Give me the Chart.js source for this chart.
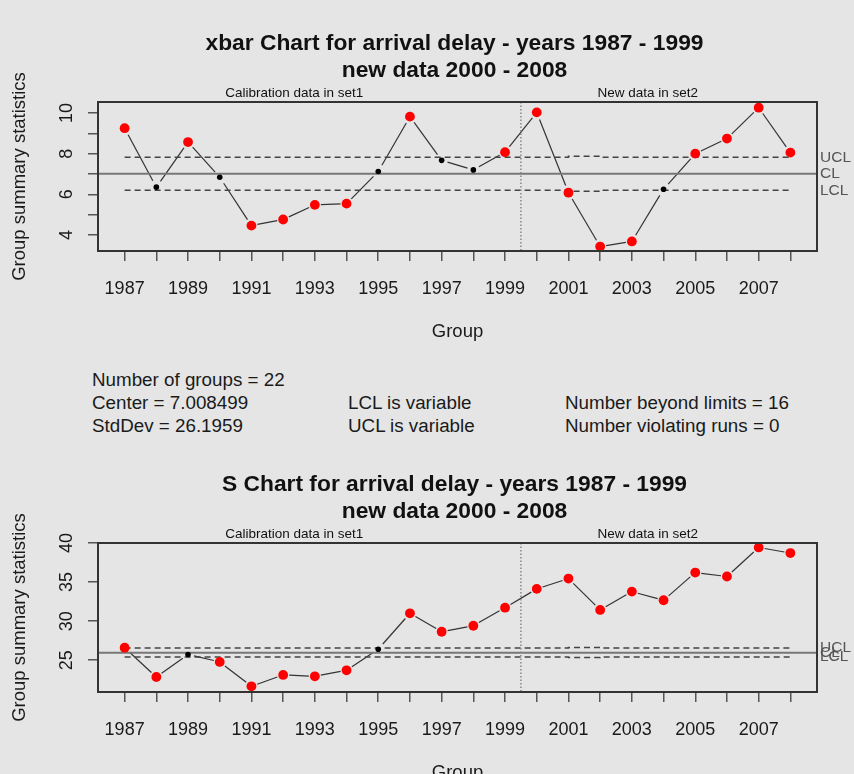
<!DOCTYPE html>
<html>
<head>
<meta charset="utf-8">
<script src="https://cdn.jsdelivr.net/npm/chart.js@4.4.0/dist/chart.umd.min.js"></script>
<style>
body { margin: 0; background: #e5e5e5; width: 854px; height: 774px; overflow: hidden; position: relative;
       font-family: 'Liberation Sans', Arial, sans-serif; }
.box { position: absolute; left: 0; width: 854px; height: 350px; }
.stat { position: absolute; font-size: 18.8px; line-height: 20px; color: #1a1a1a; white-space: nowrap; }
</style>
</head>
<body>
<div class="box" style="top:0"><canvas id="xbarChart"></canvas></div>

<div class="stat" style="left:92px;top:370px">Number of groups = 22</div>
<div class="stat" style="left:92px;top:393px">Center = 7.008499</div>
<div class="stat" style="left:348px;top:393px">LCL is variable</div>
<div class="stat" style="left:565px;top:393px">Number beyond limits = 16</div>
<div class="stat" style="left:92px;top:416px">StdDev = 26.1959</div>
<div class="stat" style="left:348px;top:416px">UCL is variable</div>
<div class="stat" style="left:565px;top:416px">Number violating runs = 0</div>

<div class="box" style="top:441px"><canvas id="sChart"></canvas></div>

<script>
// groups (years)
var years = [1987, 1988, 1989, 1990, 1991, 1992, 1993, 1994, 1995, 1996, 1997,
             1998, 1999, 2000, 2001, 2002, 2003, 2004, 2005, 2006, 2007, 2008];
var yearLabels = [1987, 1989, 1991, 1993, 1995, 1997, 1999, 2001, 2003, 2005, 2007];
var splitAt = 1999.5;
var calibLabelAt = 1992.35;
var newLabelAt = 2003.5;

// xbar chart
var xbarStats = [9.25, 6.35, 8.57, 6.84, 4.46, 4.76, 5.48, 5.54, 7.12, 9.82, 7.67,
                 7.20, 8.07, 10.03, 6.08, 3.43, 3.68, 6.25, 8.00, 8.74, 10.26, 8.05];
var xbarCenter = 7.008499;
var xbarUcl = [7.82, 7.82, 7.82, 7.82, 7.82, 7.82, 7.82, 7.82, 7.82, 7.82, 7.82,
               7.82, 7.82, 7.82, 7.87, 7.82, 7.82, 7.82, 7.82, 7.82, 7.82, 7.82];
var xbarLcl = [6.20, 6.20, 6.20, 6.20, 6.20, 6.20, 6.20, 6.20, 6.20, 6.20, 6.20,
               6.20, 6.20, 6.20, 6.15, 6.20, 6.20, 6.20, 6.20, 6.20, 6.20, 6.20];
var xbarYTicks = [4, 5, 6, 7, 8, 9, 10];
var xbarYLabels = [4, 6, 8, 10];

// S chart
var sStats = [26.60, 22.85, 25.73, 24.78, 21.66, 23.11, 22.94, 23.71, 26.41, 31.00, 28.64,
              29.41, 31.72, 34.13, 35.45, 31.43, 33.78, 32.67, 36.22, 35.71, 39.43, 38.71];
var sCenter = 25.94;
var sUcl = [26.55, 26.55, 26.55, 26.55, 26.55, 26.55, 26.55, 26.55, 26.55, 26.55, 26.55,
            26.55, 26.55, 26.55, 26.63, 26.55, 26.55, 26.55, 26.55, 26.55, 26.55, 26.55];
var sLcl = [25.42, 25.42, 25.42, 25.42, 25.42, 25.42, 25.42, 25.42, 25.42, 25.42, 25.42,
            25.42, 25.42, 25.42, 25.36, 25.42, 25.42, 25.42, 25.42, 25.42, 25.42, 25.42];
var sYTicks = [25, 30, 35, 40];
var sYLabels = [25, 30, 35, 40];

var FONT = "'Liberation Sans', Arial, sans-serif";

function pairs(vals) {
    return years.map(function (yr, i) { return { x: yr, y: vals[i] }; });
}

// lines between points, broken near each point (R type "b")
var gapLines = {
    id: 'gapLines',
    beforeDatasetsDraw: function (chart) {
        var pts = chart.getDatasetMeta(0).data;
        var ctx = chart.ctx, a = 6, b = 8;
        ctx.save();
        ctx.strokeStyle = '#333';
        ctx.lineWidth = 1.2;
        for (var i = 0; i < pts.length - 1; i++) {
            var dx = pts[i + 1].x - pts[i].x, dy = pts[i + 1].y - pts[i].y;
            var len = Math.sqrt(dx * dx + dy * dy);
            var ux = dx / len, uy = dy / len;
            var gap = 1 / Math.sqrt((ux / a) * (ux / a) + (uy / b) * (uy / b));
            if (len <= 2 * gap) continue;
            ctx.beginPath();
            ctx.moveTo(pts[i].x + ux * gap, pts[i].y + uy * gap);
            ctx.lineTo(pts[i + 1].x - ux * gap, pts[i + 1].y - uy * gap);
            ctx.stroke();
        }
        ctx.restore();
    }
};

var decorations = {
    id: 'decorations',
    afterDraw: function (chart) {
        var o = chart.options.plugins.decorations;
        var ctx = chart.ctx, area = chart.chartArea;
        var xs = chart.scales.x, ys = chart.scales.y;
        var n = years.length - 1;
        ctx.save();

        // split line
        var sx = xs.getPixelForValue(splitAt);
        ctx.strokeStyle = '#888';
        ctx.lineWidth = 1.5;
        ctx.setLineDash([1.5, 2]);
        ctx.beginPath();
        ctx.moveTo(sx, area.top);
        ctx.lineTo(sx, area.bottom);
        ctx.stroke();
        ctx.setLineDash([]);

        // box
        ctx.strokeStyle = '#333';
        ctx.lineWidth = 2;
        ctx.strokeRect(area.left, area.top, area.right - area.left, area.bottom - area.top);

        // titles
        var cx = (area.left + area.right) / 2;
        ctx.fillStyle = '#111';
        ctx.textAlign = 'center';
        ctx.textBaseline = 'middle';
        ctx.font = 'bold 22.8px ' + FONT;
        ctx.fillText(o.title[0], cx - 3, 44);
        ctx.fillText(o.title[1], cx - 3, 71);

        ctx.font = '13.5px ' + FONT;
        ctx.fillText('Calibration data in set1', xs.getPixelForValue(calibLabelAt), 93);
        ctx.fillText('New data in set2', xs.getPixelForValue(newLabelAt), 93);

        // axis titles
        ctx.font = '18.5px ' + FONT;
        ctx.fillStyle = '#1a1a1a';
        ctx.fillText('Group', cx, 332);
        ctx.save();
        ctx.translate(20, (area.top + area.bottom) / 2);
        ctx.rotate(-Math.PI / 2);
        ctx.fillText('Group summary statistics', 0, 0);
        ctx.restore();

        // limit labels
        ctx.font = '15.5px ' + FONT;
        ctx.fillStyle = '#555';
        ctx.textAlign = 'left';
        ctx.fillText('UCL', area.right + 3, ys.getPixelForValue(o.ucl[n]));
        ctx.fillText('CL', area.right + 3, ys.getPixelForValue(o.center));
        ctx.fillText('LCL', area.right + 3, ys.getPixelForValue(o.lcl[n]));
        ctx.restore();
    }
};

function makeChart(id, title, stats, center, ucl, lcl, yMin, yMax, yTicks, yLabels) {
    var out = stats.map(function (v, i) { return v > ucl[i] || v < lcl[i]; });
    var xMin = 1986.16, xMax = 2008.84;
    return new Chart(document.getElementById(id).getContext('2d'), {
        type: 'line',
        data: {
            datasets: [{
                data: pairs(stats),
                showLine: false,
                pointRadius: function (c) { return out[c.dataIndex] ? 4.9 : 2.8; },
                pointBackgroundColor: function (c) { return out[c.dataIndex] ? '#ff0000' : '#000000'; },
                pointBorderWidth: 0
            }, {
                data: pairs(ucl),
                stepped: 'before',
                borderColor: '#444',
                borderWidth: 1.5,
                borderDash: [6, 4],
                pointRadius: 0
            }, {
                data: pairs(lcl),
                stepped: 'before',
                borderColor: '#444',
                borderWidth: 1.5,
                borderDash: [6, 4],
                pointRadius: 0
            }, {
                data: [{ x: xMin, y: center }, { x: xMax, y: center }],
                borderColor: '#777',
                borderWidth: 2,
                pointRadius: 0
            }]
        },
        options: {
            animation: false,
            responsive: true,
            maintainAspectRatio: false,
            events: [],
            layout: { padding: { top: 102, right: 37, left: 0, bottom: 0 } },
            plugins: {
                legend: { display: false },
                tooltip: { enabled: false },
                decorations: { title: title, center: center, ucl: ucl, lcl: lcl }
            },
            scales: {
                x: {
                    type: 'linear',
                    min: xMin,
                    max: xMax,
                    afterBuildTicks: function (s) { s.ticks = years.map(function (v) { return { value: v }; }); },
                    afterFit: function (s) { s.height = 99; },
                    ticks: {
                        autoSkip: false, maxRotation: 0, minRotation: 0, padding: 17,
                        color: '#1a1a1a', font: { family: FONT, size: 18 },
                        callback: function (v) { return yearLabels.indexOf(v) >= 0 ? String(v) : ''; }
                    },
                    grid: { drawOnChartArea: false, tickLength: 10, color: '#555', lineWidth: 1.5 },
                    border: { display: false }
                },
                y: {
                    type: 'linear',
                    min: yMin,
                    max: yMax,
                    afterBuildTicks: function (s) { s.ticks = yTicks.map(function (v) { return { value: v }; }); },
                    afterFit: function (s) { s.width = 98; },
                    ticks: {
                        minRotation: 90, maxRotation: 90, crossAlign: 'center', padding: 11,
                        color: '#1a1a1a', font: { family: FONT, size: 18 },
                        callback: function (v) { return yLabels.indexOf(v) >= 0 ? String(v) : ''; }
                    },
                    grid: { drawOnChartArea: false, tickLength: 10, color: '#555', lineWidth: 1.5 },
                    border: { display: false }
                }
            }
        },
        plugins: [gapLines, decorations]
    });
}

makeChart('xbarChart', ['xbar Chart for arrival delay - years 1987 - 1999', 'new data 2000 - 2008'],
          xbarStats, xbarCenter, xbarUcl, xbarLcl, 3.21, 10.54, xbarYTicks, xbarYLabels);
makeChart('sChart', ['S Chart for arrival delay - years 1987 - 1999', 'new data 2000 - 2008'],
          sStats, sCenter, sUcl, sLcl, 20.93, 40.0, sYTicks, sYLabels);
</script>
</body>
</html>
